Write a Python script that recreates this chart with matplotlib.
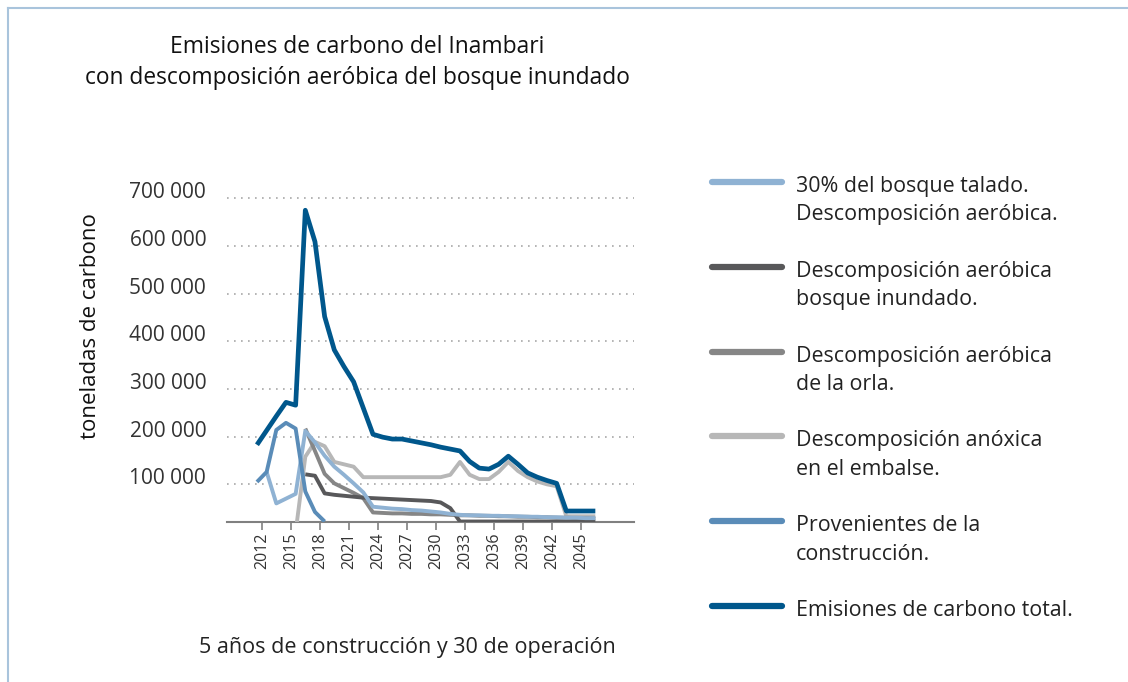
import matplotlib.pyplot as plt
from matplotlib.lines import Line2D
import numpy as np

plt.rcParams["font.family"] = ["Open Sans", "DejaVu Sans"]

nan = np.nan
years = np.arange(2012, 2048)

# miles de toneladas de carbono por año
talado = [nan, 126, 60, 70, 80, 212, 188, 160, 137, 120, 102, 83, 53,
          51, 49, 48, 46, 45, 43, 41, 38, 36, 35, 35, 34, 34, 33, 33, 32, 32,
          31, 31, 30, 30, 29, 29]
inundado = [nan, nan, nan, nan, nan, 121, 118, 81, 78, 76, 74, 72, 71, 70,
            69, 68, 67, 66, 65, 62, 50] + [22] * 15
orla = [nan, nan, nan, nan, nan, 217, 170, 122, 102, 92, 82, 71, 41,
        40, 39, 39, 38, 38, 37, 37, 36, 35, 35, 34, 34, 33, 33, 32, 32, 31,
        31, 30, 30, 29, 29, 28]
anoxica = [nan, nan, nan, nan, 0, 158, 189, 180, 147, 142, 137, 115,
           115, 115, 115, 115, 115, 115, 115, 115, 120, 147, 120, 111, 111,
           126, 147, 128, 115, 106, 100, 96, 33, 33, 33, 33]
construccion = [105, 126, 214, 229, 217, 85, 42, 22] + [nan] * 28
total = [183, 213, 243, 272, 266, 675, 609, 452, 382, 347, 315, 260, 205,
         199, 195, 195, 191, 187, 183, 178, 174, 170, 148, 134, 132, 142,
         159, 142, 124, 115, 108, 102, 44, 44, 44, 44]

tick_years = np.arange(2012, 2046, 3)
y_ticks = np.arange(100000, 700001, 100000)

labels = [
    "30% del bosque talado.\nDescomposición aeróbica.",
    "Descomposición aeróbica\nbosque inundado.",
    "Descomposición aeróbica\nde la orla.",
    "Descomposición anóxica\nen el embalse.",
    "Provenientes de la\nconstrucción.",
    "Emisiones de carbono total.",
]
colors = ["#8fb2d3", "#58585a", "#868686", "#b7b7b7", "#5a8cb8", "#00578c"]
values = [talado, inundado, orla, anoxica, construccion, total]
draw_order = [3, 2, 1, 0, 4, 5]

W, H = 1128, 682


def fx(x):
    return x / W


def fy(y):
    return 1 - y / H


fig = plt.figure(figsize=(W / 100, H / 100), dpi=100)
ax = fig.add_axes([fx(227), fy(521.7), (634 - 227) / W, (521.7 - 188.8) / H])

for i in draw_order:
    lw = 3.4 if i == 5 else 2.8
    ax.plot(years, np.array(values[i]) * 1000, color=colors[i], lw=lw,
            solid_capstyle="butt", solid_joinstyle="round", zorder=3)

ax.set_xlim(2008.9, 2051.0)
ax.set_ylim(21600, 720000)

# las etiquetas de año van medio periodo a la derecha del punto
ax.set_xticks(tick_years + 0.5)
ax.set_xticklabels([str(y) for y in tick_years], rotation=90, fontsize=11.5,
                   color="#333333")
ax.tick_params(axis="x", direction="out", length=6, width=1.2,
               color="#808080", pad=1.5)

ax.set_yticks(y_ticks)
ax.set_yticklabels([f"{v:,}".replace(",", " ") for v in y_ticks],
                   fontsize=15, color="#333333")
ax.tick_params(axis="y", length=0, pad=15)
for lab in ax.get_yticklabels():
    lab.set_verticalalignment("baseline")

ax.yaxis.grid(True, linestyle=(0, (1, 3.2)), color="#a8a8a8", lw=1.2)
ax.set_axisbelow(True)
for side in ["left", "right", "top"]:
    ax.spines[side].set_visible(False)
ax.spines["bottom"].set_color("#808080")
ax.spines["bottom"].set_linewidth(1.5)

# títulos y rótulos
fig.text(fx(357.5), fy(47), "Emisiones de carbono del Inambari",
         ha="center", va="center", fontsize=16.4, color="#111111")
fig.text(fx(357.5), fy(78), "con descomposición aeróbica del bosque inundado",
         ha="center", va="center", fontsize=16.4, color="#111111")
fig.text(fx(90), fy(326), "toneladas de carbono", rotation=90,
         ha="center", va="center", fontsize=16, color="#111111")
fig.text(fx(407.5), fy(648), "5 años de construcción y 30 de operación",
         ha="center", va="center", fontsize=15.5, color="#222222")

# leyenda
for i, (lab, col) in enumerate(zip(labels, colors)):
    y0 = 182 + 84.8 * i
    fig.add_artist(Line2D([fx(712), fx(782)], [fy(y0), fy(y0)], color=col,
                          lw=4.5, solid_capstyle="round"))
    for j, line in enumerate(lab.split("\n")):
        fig.text(fx(796), fy(y0 + 10 + 28.5 * j), line, ha="left",
                 va="baseline", fontsize=15.4, color="#222222")

# marco
frame_col = "#a9c4dc"
fig.add_artist(Line2D([fx(8), 1], [fy(8), fy(8)], color=frame_col, lw=1.5))
fig.add_artist(Line2D([fx(8), fx(8)], [0, fy(8)], color=frame_col, lw=1.5))

fig.savefig("out.png", dpi=100)
